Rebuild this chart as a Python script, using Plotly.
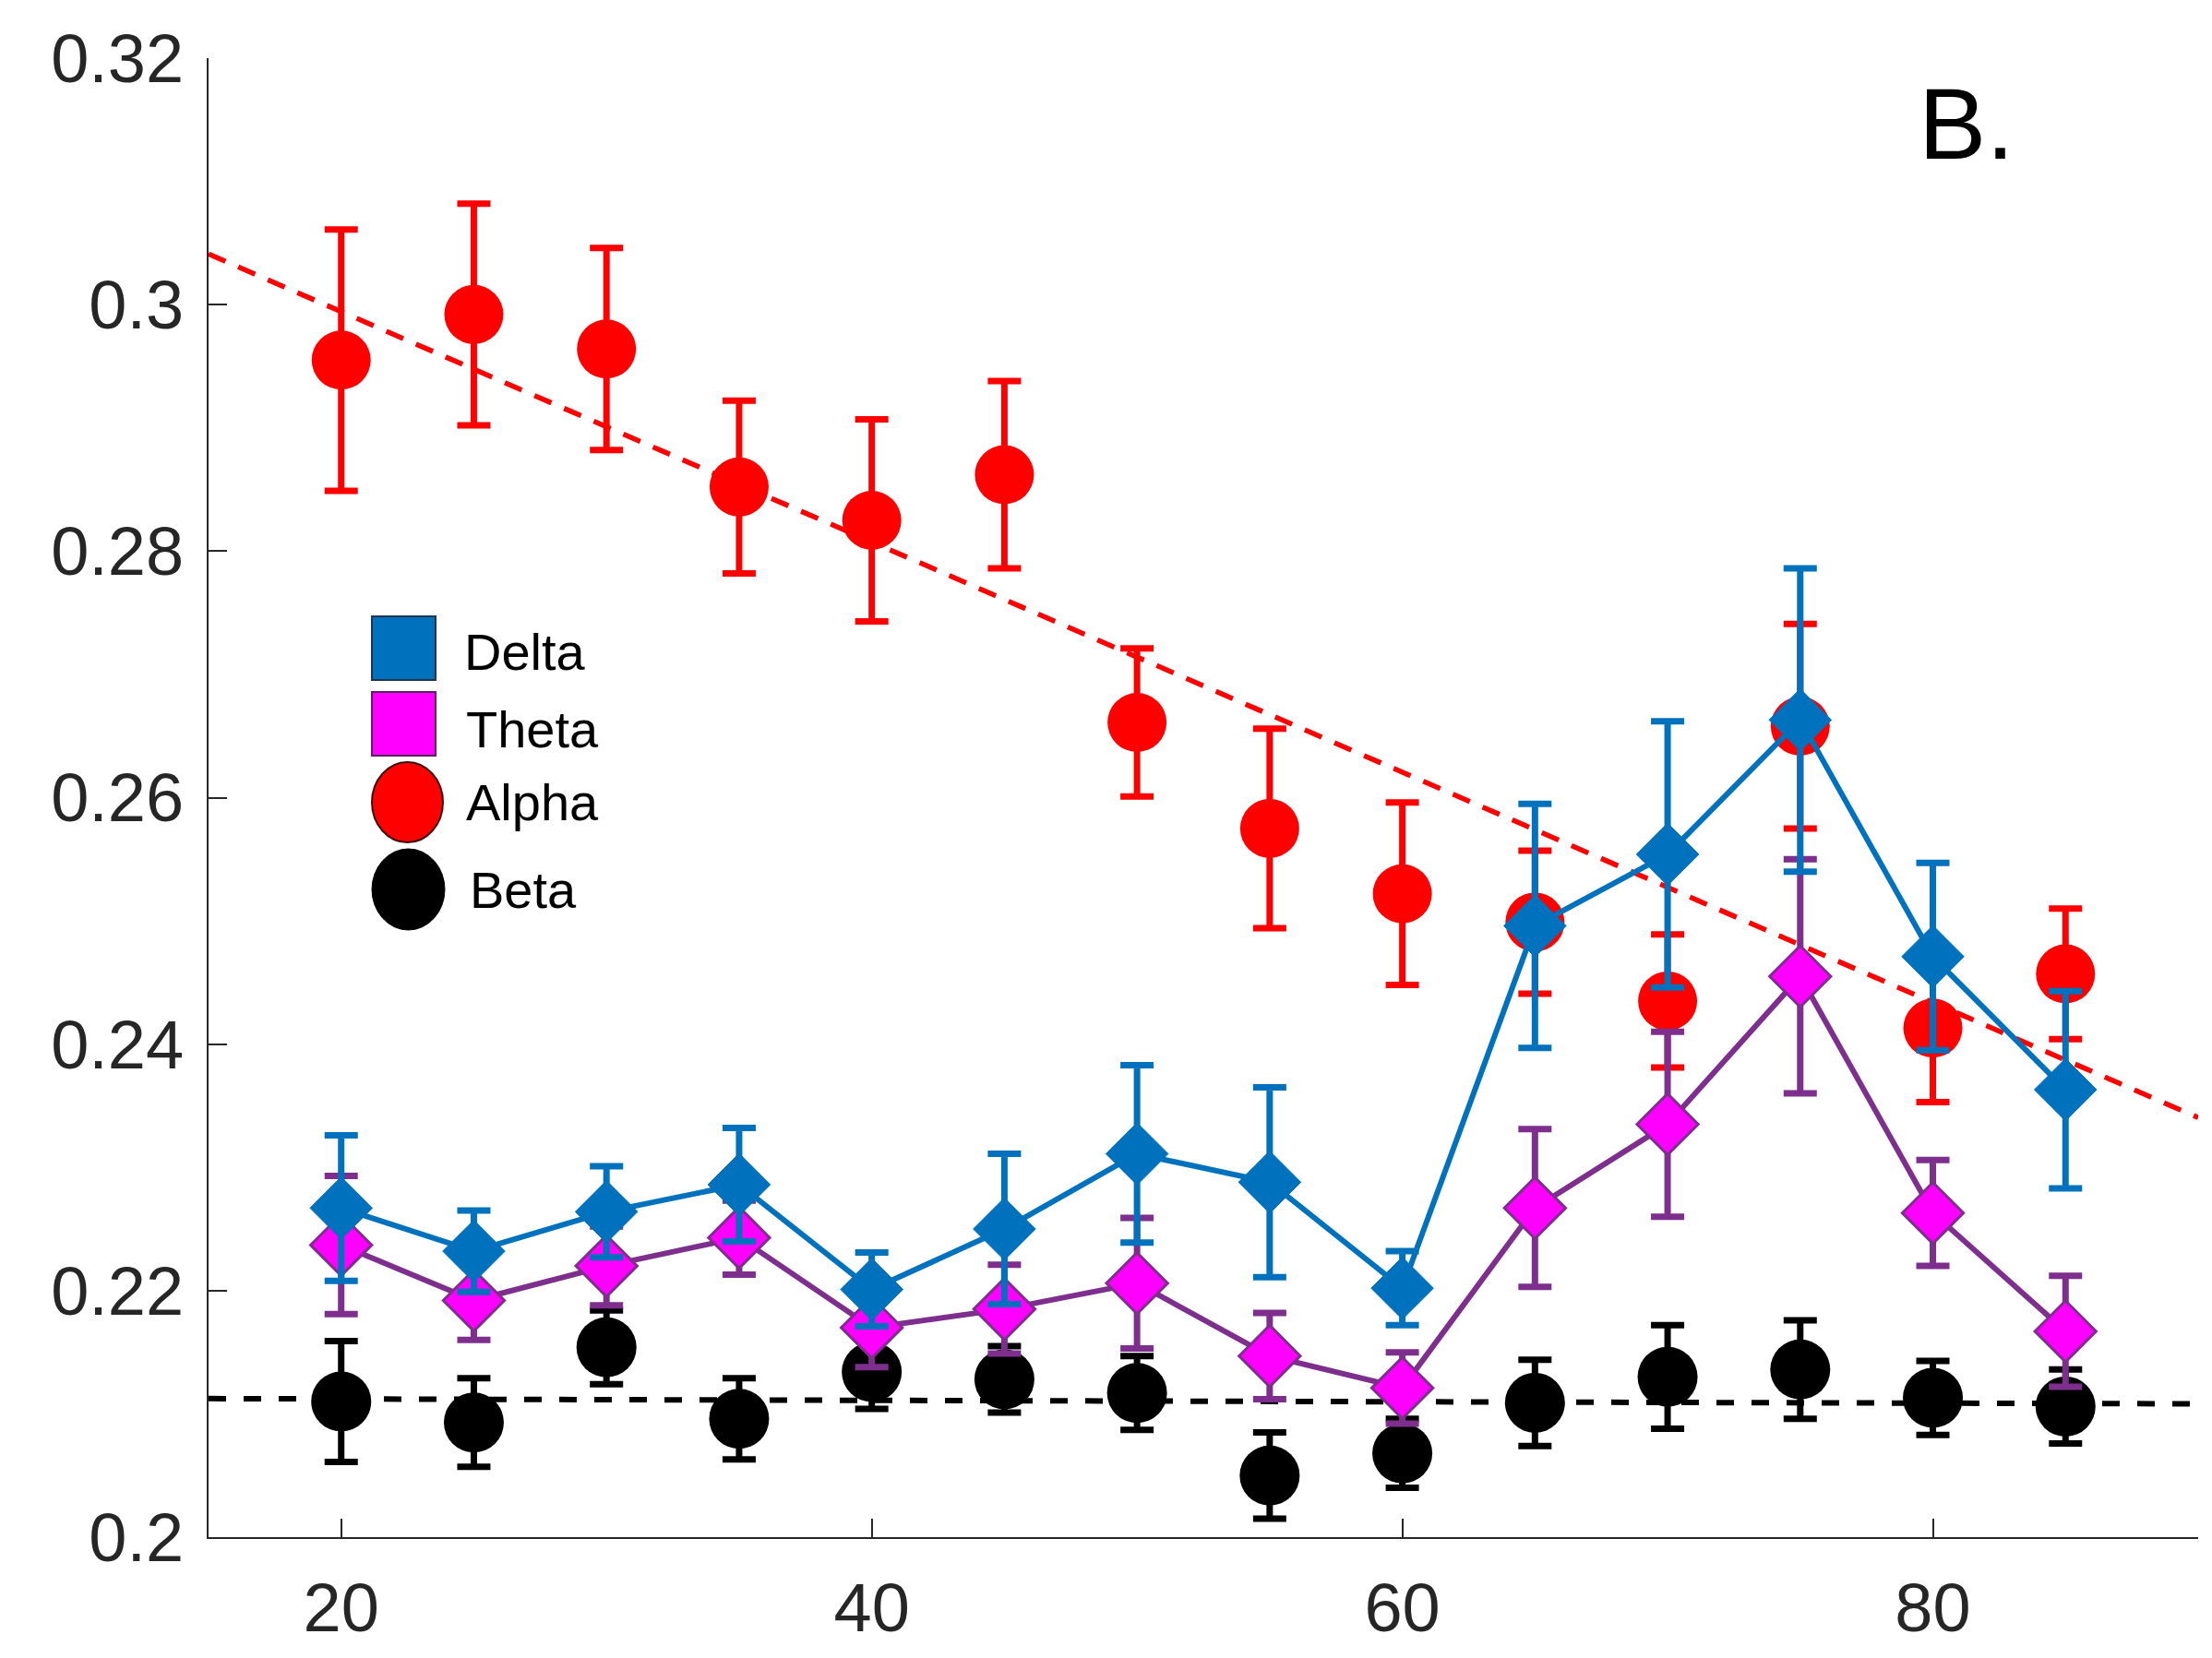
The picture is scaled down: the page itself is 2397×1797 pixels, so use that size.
import numpy as np
import plotly.graph_objects as go

# Age groups (years)
age = [20, 25, 30, 35, 40, 45, 50, 55, 60, 65, 70, 75, 80, 85]

# Mean relative power per band and its standard error
delta_mean = [0.2267, 0.2232, 0.2264, 0.2286, 0.2201, 0.2250, 0.2311, 0.2288, 0.2202, 0.2496, 0.2554, 0.2663, 0.2471, 0.2363]
delta_err = [0.0059, 0.0033, 0.0037, 0.0046, 0.0030, 0.0061, 0.0072, 0.0077, 0.0030, 0.0099, 0.0108, 0.0123, 0.0076, 0.0080]

theta_mean = [0.2237, 0.2192, 0.2220, 0.2243, 0.2170, 0.2185, 0.2206, 0.2147, 0.2121, 0.2267, 0.2335, 0.2455, 0.2263, 0.2167]
theta_err = [0.0056, 0.0032, 0.0032, 0.0030, 0.0032, 0.0036, 0.0053, 0.0035, 0.0029, 0.0064, 0.0075, 0.0095, 0.0043, 0.0045]

alpha_mean = [0.2955, 0.2992, 0.2964, 0.2852, 0.2825, 0.2862, 0.2661, 0.2575, 0.2522, 0.2499, 0.2435, 0.2658, 0.2413, 0.2457]
alpha_err = [0.0106, 0.0090, 0.0082, 0.0070, 0.0082, 0.0076, 0.0060, 0.0081, 0.0074, 0.0058, 0.0054, 0.0083, 0.0060, 0.0053]

beta_mean = [0.2110, 0.2093, 0.2154, 0.2096, 0.2134, 0.2128, 0.2117, 0.2050, 0.2068, 0.2109, 0.2130, 0.2136, 0.2113, 0.2106]
beta_err = [0.0049, 0.0036, 0.0030, 0.0033, 0.0030, 0.0027, 0.0030, 0.0035, 0.0028, 0.0035, 0.0042, 0.0040, 0.0030, 0.0030]

x_range = [15, 90]
y_range = [0.2, 0.32]
x_ticks = [20, 40, 60, 80]
y_ticks = [0.2, 0.22, 0.24, 0.26, 0.28, 0.3, 0.32]
y_tick_text = ["0.2", "0.22", "0.24", "0.26", "0.28", "0.3", "0.32"]

BLUE = "#0072BD"
MAGENTA = "#FF00FF"
PURPLE = "#7E2F8E"
RED = "#FF0000"
BLACK = "#000000"
AXIS = "#262626"
FONT = "Liberation Sans, Arial, Helvetica, sans-serif"

W, H = 2397, 1797
ML, MR, MT, MB = 226, 15, 63, 131


def px_x(px):
    return (px - ML) / (W - ML - MR)


def px_y(py):
    return (H - MB - py) / (H - MT - MB)


# Linear age trends for alpha and beta
fit_x = np.array(x_range, dtype=float)
alpha_fit = np.polyval(np.polyfit(age, alpha_mean, 1), fit_x)
beta_fit = np.polyval(np.polyfit(age, beta_mean, 1), fit_x)

fig = go.Figure()

fig.add_trace(go.Scatter(x=fit_x, y=alpha_fit, mode="lines",
                         line=dict(color=RED, width=5.5, dash="20px,15px"),
                         showlegend=False, hoverinfo="skip"))
fig.add_trace(go.Scatter(x=fit_x, y=beta_fit, mode="lines",
                         line=dict(color=BLACK, width=6, dash="19px,19px"),
                         showlegend=False, hoverinfo="skip"))


def err(vals, color):
    return dict(type="data", array=vals, visible=True, color=color, thickness=7, width=18)


fig.add_trace(go.Scatter(x=age, y=alpha_mean, mode="markers", name="Alpha",
                         marker=dict(symbol="circle", size=64, color=RED, line=dict(width=0)),
                         error_y=err(alpha_err, RED)))
fig.add_trace(go.Scatter(x=age, y=beta_mean, mode="markers", name="Beta",
                         marker=dict(symbol="circle", size=65, color=BLACK, line=dict(width=0)),
                         error_y=err(beta_err, BLACK)))
fig.add_trace(go.Scatter(x=age, y=theta_mean, mode="lines+markers", name="Theta",
                         line=dict(color=PURPLE, width=6),
                         marker=dict(symbol="diamond", size=51, color=MAGENTA,
                                     line=dict(color=PURPLE, width=3)),
                         error_y=err(theta_err, PURPLE)))
fig.add_trace(go.Scatter(x=age, y=delta_mean, mode="lines+markers", name="Delta",
                         line=dict(color=BLUE, width=6),
                         marker=dict(symbol="diamond", size=52, color=BLUE,
                                     line=dict(color=BLUE, width=1)),
                         error_y=err(delta_err, BLUE)))

# Legend drawn as large swatches with labels
shapes = [
    dict(type="rect", xref="paper", yref="paper", x0=px_x(403), x1=px_x(472), y0=px_y(737), y1=px_y(668),
         fillcolor=BLUE, line=dict(color="#1f3550", width=2)),
    dict(type="rect", xref="paper", yref="paper", x0=px_x(403), x1=px_x(472), y0=px_y(819), y1=px_y(750),
         fillcolor=MAGENTA, line=dict(color="#5a2060", width=2)),
    dict(type="circle", xref="paper", yref="paper", x0=px_x(403), x1=px_x(480), y0=px_y(913), y1=px_y(826),
         fillcolor=RED, line=dict(color="#3a1010", width=2)),
    dict(type="circle", xref="paper", yref="paper", x0=px_x(403), x1=px_x(482), y0=px_y(1008), y1=px_y(920),
         fillcolor=BLACK, line=dict(color=BLACK, width=1)),
]
legend_labels = ["Delta", "Theta", "Alpha", "Beta"]
legend_x = [501, 503, 503, 507]
legend_y = [706, 791, 869, 964]
annotations = [
    dict(text=t, xref="paper", yref="paper", x=px_x(lx), y=px_y(ly), xanchor="left", yanchor="middle",
         showarrow=False, font=dict(family=FONT, size=56, color="black"))
    for t, lx, ly in zip(legend_labels, legend_x, legend_y)
]
annotations.append(dict(text="B.", xref="paper", yref="paper", x=px_x(2077), y=px_y(133),
                        xanchor="left", yanchor="middle", showarrow=False,
                        font=dict(family=FONT, size=110, color="black")))

fig.update_layout(
    template="none",
    width=W, height=H,
    margin=dict(l=ML, r=MR, t=MT, b=MB, pad=0, autoexpand=False),
    paper_bgcolor="white", plot_bgcolor="white",
    showlegend=False,
    shapes=shapes,
    annotations=annotations,
    font=dict(family=FONT, color=AXIS),
)
fig.update_xaxes(range=x_range, tickvals=x_ticks, ticks="inside", ticklen=20, tickwidth=2,
                 tickcolor=AXIS, showline=True, linecolor=AXIS, linewidth=2, showgrid=False,
                 zeroline=False, tickfont=dict(family=FONT, size=74, color=AXIS),
                 ticklabelstandoff=11, automargin=False)
fig.update_yaxes(range=y_range, tickvals=y_ticks, ticktext=y_tick_text, ticks="inside", ticklen=20,
                 tickwidth=2, tickcolor=AXIS, showline=True, linecolor=AXIS, linewidth=2,
                 showgrid=False, zeroline=False, tickfont=dict(family=FONT, size=74, color=AXIS),
                 ticklabelstandoff=10, automargin=False)

fig.write_html("out.html")
